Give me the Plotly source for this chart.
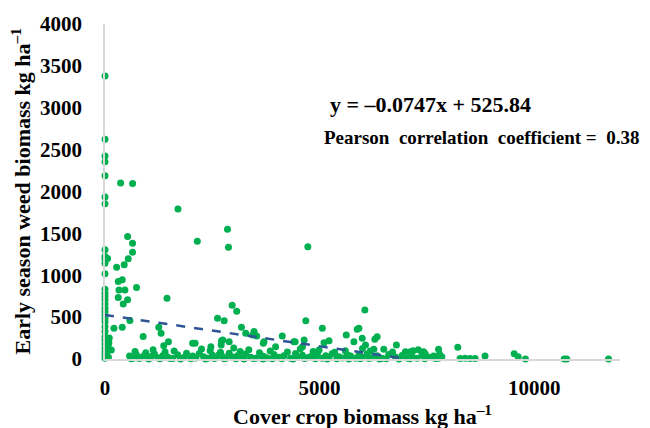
import plotly.graph_objects as go

# ---- data ----
# points at zero / near-zero cover crop biomass
zero_x = [0]*31 + [60, 90, 70, 40, 80, 50, 30, 100]
zero_y = [3380, 2625, 2424, 2356, 2189, 1934, 1854, 1304, 1224, 1192, 1144, 1017, 834, 786,
          745, 706, 658, 606, 566, 526, 487, 446, 386, 327, 267, 227, 179, 128, 87, 48, 8,
          1200, 190, 147, 60, 20, 100, 30, 250]

# high weed biomass points
high_x = [364, 643, 1700, 2854, 2151, 2877, 4726, 527, 642, 642, 541, 448, 271, 309, 402,
          325, 464, 735, 309, 526, 425, 1445, 2963, 3070]
high_y = [2101, 2097, 1790, 1549, 1405, 1333, 1341, 1463, 1383, 1276, 1196, 1124, 1096, 925,
          945, 825, 825, 853, 733, 706, 658, 724, 641, 570]

# mid / low weed biomass points
mid_x = [147, 209, 402, 580, 889, 1253, 1307, 1478, 1369, 2042, 2100, 2467, 2622, 2777, 2714,
         2893, 2744, 2707, 3178, 3279, 3473, 3534, 3441, 3689, 3705, 3975, 4130, 4401, 4601,
         4431, 4640, 4679, 4988, 5065, 5104, 5220, 5622, 5800, 5877, 5916, 5993, 6055, 6070,
         6264, 6287, 6341, 6496, 6790, 7000, 7115, 7176, 7424, 7463, 7772, 7795, 8220, 8275,
         8391, 8507, 8623, 8855, 9535, 9628, 9797, 10700, 10760, 11732]
mid_y = [108, 367, 379, 460, 270, 379, 307, 207, 159, 187, 187, 147, 486, 458, 219,
         207, 227, 167, 379, 307, 327, 275, 287, 187, 207, 147, 275, 207, 147,
         207, 227, 458, 108, 367, 195, 219, 287, 207, 355, 366, 247, 586, 167,
         116, 235, 267, 116, 167, 87, 87, 99, 87, 60, 115, 56, 139, 5,
         8, 6, 5, 36, 64, 28, 0, 0, 0, 0]

# dense band near the x axis
band_x = [573, 650, 727, 843, 921, 998, 1075, 1152, 1230, 1346, 1462, 1578, 1694, 1849, 2042,
          2118, 2196, 2297, 2390, 2506, 2583, 2660, 2738, 2815, 2893, 2970, 3086, 3202, 3279,
          3396, 3512, 3628, 3705, 3782, 3937, 4053, 4169, 4323, 4439, 4485, 4601, 4717, 4794,
          4949, 5065, 5143, 5220, 5297, 5452, 5530, 5646, 5723, 5839, 5916, 5993, 6109, 6225,
          6341, 6457, 6612, 6767, 6922, 7037, 7153, 7269, 7385, 7540, 7656, 7772, 7849]
band_y = [35, 10, 55, 20, 45, 8, 30, 60, 15, 40, 25, 5, 50, 20, 35, 12, 65, 28, 8, 45,
          18, 55, 30, 10, 70, 25, 40, 15, 60, 22, 8, 48, 30, 12, 55, 20, 38, 10, 65, 25,
          45, 15, 30, 55, 10, 40, 20, 65, 28, 12, 50, 35, 8, 45, 22, 60, 15, 38, 10, 55,
          25, 42, 12, 30, 8, 48, 20, 35, 10, 28]

band2_x = [700, 950, 1120, 1400, 1610, 1900, 2250, 2450, 2690, 3000, 3150, 3350, 3600, 3850,
           4250, 4550, 4850, 5350, 5600, 6000, 6180, 6700, 7300]
band2_y = [90, 75, 110, 85, 95, 70, 120, 100, 80, 130, 90, 110, 75, 95,
           85, 120, 90, 80, 100, 125, 95, 85, 110]

band3_x = [610, 800, 1020, 1280, 1520, 1760, 2000, 2340, 2550, 2780, 3050, 3240, 3450, 3680,
           3900, 4120, 4380, 4650, 4900, 5180, 5400, 5680, 5950, 6150, 6400, 6550, 6850, 7100,
           7450, 7700]
band3_y = [2, 5, 0, 3, 6, 1, 4, 0, 5, 2, 3, 0, 6, 1, 4, 2, 0, 5, 3, 1, 4, 0, 2, 6, 1, 3, 0, 4, 2, 5]

# linear trend  y = -0.0747x + 525.84
slope = -0.0747
intercept = 525.84

x_ticks = [0, 5000, 10000]
x_tick_labels = ["0", "5000", "10000"]
y_ticks = [0, 500, 1000, 1500, 2000, 2500, 3000, 3500, 4000]
y_tick_labels = ["0", "500", "1000", "1500", "2000", "2500", "3000", "3500", "4000"]

cover_x = zero_x + high_x + mid_x + band_x + band2_x + band3_x
weed_y = zero_y + high_y + mid_y + band_y + band2_y + band3_y

x_end = -intercept / slope
trend_x = [0, x_end]
trend_y = [intercept + slope * v for v in trend_x]

SERIF = "Liberation Serif, Times New Roman, serif"

fig = go.Figure()
fig.add_trace(go.Scatter(
    x=cover_x, y=weed_y, mode="markers",
    marker=dict(color="#00B050", size=7, line=dict(width=0)),
    cliponaxis=False, showlegend=False, hoverinfo="x+y"))
fig.add_trace(go.Scatter(
    x=trend_x, y=trend_y, mode="lines",
    line=dict(color="#2F5597", width=2.5, dash="dash"),
    showlegend=False, hoverinfo="skip"))

axis_common = dict(showgrid=False, zeroline=False, showline=True, linecolor="#D9D9D9",
                   linewidth=1.5, ticks="outside", tickcolor="rgba(0,0,0,0)",
                   tickfont=dict(family=SERIF, size=21, color="#000000", weight="bold"))

# page body has an 8px margin, so the figure is sized/offset to compensate
fig.update_layout(
    width=642, height=420,
    margin=dict(l=97, r=30, t=16, b=69, autoexpand=False),
    paper_bgcolor="white", plot_bgcolor="white",
    xaxis=dict(range=[0, 12000], tickvals=x_ticks, ticktext=x_tick_labels, ticklen=9,
               **axis_common),
    yaxis=dict(range=[0, 4000], tickvals=y_ticks, ticktext=y_tick_labels, ticklen=17,
               **axis_common),
    annotations=[
        dict(text="y = \u20130.0747x + 525.84", xref="paper", yref="paper",
             x=0.433, y=0.761, xanchor="left", yanchor="middle", showarrow=False,
             font=dict(family=SERIF, size=22, color="#000000", weight="bold")),
        dict(text="Pearson  correlation  coefficient =  0.38", xref="paper", yref="paper",
             x=0.421, y=0.66, xanchor="left", yanchor="middle", showarrow=False,
             font=dict(family=SERIF, size=19, color="#000000", weight="bold")),
        dict(text="Cover crop biomass kg ha<sup>\u20131</sup>", xref="paper", yref="paper",
             x=0.5, y=-0.166, xanchor="center", yanchor="middle", showarrow=False,
             font=dict(family=SERIF, size=22, color="#000000", weight="bold")),
        dict(text="Early season weed biomass kg ha<sup>\u20131</sup>", xref="paper", yref="paper",
             x=-0.165, y=0.5, xanchor="center", yanchor="middle", showarrow=False,
             textangle=-90,
             font=dict(family=SERIF, size=22, color="#000000", weight="bold")),
    ],
)

fig.write_html("out.html")
